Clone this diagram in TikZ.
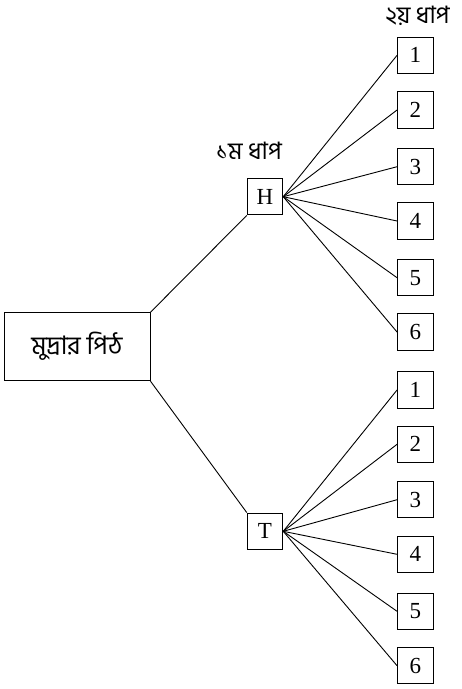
\documentclass[tikz,border=0pt]{standalone}
\usepackage{fontspec}
\setmainfont{Liberation Serif}
\newfontfamily\bnfont[Script=Bengali]{Hind Siliguri}
\tikzset{
  x=1pt, y=-1pt,
  box/.style={draw, line width=1pt, inner sep=0pt, minimum width=35.5pt, minimum height=36.5pt, font=\fontsize{23}{25}\selectfont},
  mainbox/.style={draw, line width=1pt, inner sep=0pt, minimum width=146pt, minimum height=68pt, font=\bnfont\fontsize{25.5}{28}\selectfont},
  lbl/.style={inner sep=0pt, font=\bnfont\fontsize{24}{26}\selectfont},
  conn/.style={line width=0.9pt}
}
\begin{document}
\begin{tikzpicture}
\useasboundingbox (0,0) rectangle (462,689);
\node[mainbox] (main) at (77,346.7) {মুদ্রার পিঠ};
\node[box] (H) at (265,196.7) {H};
\node[box] (T) at (265,531.3) {T};
\node[lbl] (l1) at (249,151) {১ম ধাপ};
\node[lbl] (l2) at (417.5,16) {২য় ধাপ};
\foreach \i/\y in {1/55.3,2/110,3/166.7,4/221,5/277.7,6/332}{
  \node[box] (h\i) at (415.3,\y) {\i};
  \draw[conn] (H.east) -- (h\i.west);
}
\foreach \i/\y in {1/390,2/444.3,3/499.7,4/554.3,5/611.3,6/665.7}{
  \node[box] (t\i) at (415.3,\y) {\i};
  \draw[conn] (T.east) -- (t\i.west);
}
\draw[conn] (main.north east) -- (H.south west);
\draw[conn] (main.south east) -- (T.north west);
\end{tikzpicture}
\end{document}
